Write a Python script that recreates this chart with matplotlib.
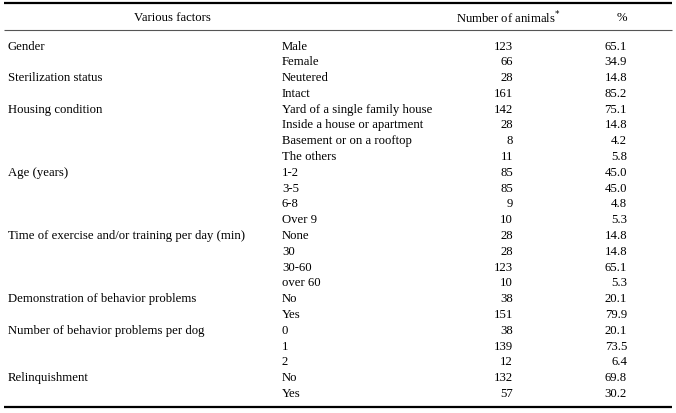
import matplotlib
matplotlib.use('Agg')
import matplotlib.pyplot as plt

# %% table data
factors = ['Gender', 'Sterilization status', 'Housing condition', 'Age (years)',
           'Time of exercise and/or training per day (min)',
           'Demonstration of behavior problems',
           'Number of behavior problems per dog', 'Relinquishment']
categories = [['Male', 'Female'],
              ['Neutered', 'Intact'],
              ['Yard of a single family house', 'Inside a house or apartment',
               'Basement or on a rooftop', 'The others'],
              ['1-2', '3-5', '6-8', 'Over 9'],
              ['None', '30', '30-60', 'over 60'],
              ['No', 'Yes'],
              ['0', '1', '2'],
              ['No', 'Yes']]
counts = [[123, 66], [28, 161], [142, 28, 8, 11], [85, 85, 9, 10],
          [28, 28, 123, 10], [38, 151], [38, 139, 12], [132, 57]]
percents = [[65.1, 34.9], [14.8, 85.2], [75.1, 14.8, 4.2, 5.8],
            [45.0, 45.0, 4.8, 5.3], [14.8, 14.8, 65.1, 5.3],
            [20.1, 79.9], [20.1, 73.5, 6.4], [69.8, 30.2]]

# %% drawing
plt.rcParams['font.family'] = ['Liberation Serif', 'DejaVu Serif']
fig = plt.figure(figsize=(6.76, 4.14), dpi=100)
ax = fig.add_axes([0, 0, 1, 1])
ax.set_xlim(0, 676)
ax.set_ylim(414, 0)
ax.axis('off')

fs = 9.2
ax.hlines(3.5, 4, 672, color='black', lw=1.6)
ax.hlines(30.5, 4, 672, color='#555555', lw=0.8)
ax.hlines(408.5, 4, 672, color='black', lw=1.6)

ax.text(172, 18, 'Various factors', ha='center', va='center', fontsize=fs)
ax.text(508, 18, 'Number of animals$^{*}$', ha='center', va='center', fontsize=fs)
ax.text(622, 18, '%', ha='center', va='center', fontsize=fs)

y0 = 46.5
dy = 15.8
row = 0
for f, cats, ns, ps in zip(factors, categories, counts, percents):
    ax.text(8, y0 + row * dy, f, ha='left', va='center', fontsize=fs)
    for c, n, p in zip(cats, ns, ps):
        y = y0 + row * dy
        ax.text(282, y, c, ha='left', va='center', fontsize=fs)
        ax.text(513, y, str(n), ha='right', va='center', fontsize=fs)
        ax.text(627, y, '%.1f' % p, ha='right', va='center', fontsize=fs)
        row += 1

fig.savefig('out.png', dpi=100)
